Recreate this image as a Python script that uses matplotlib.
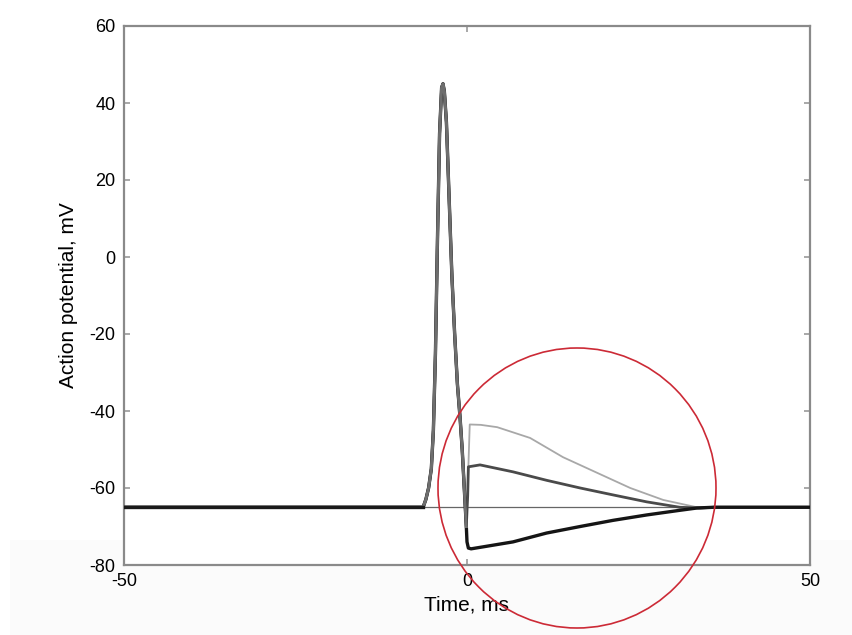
import matplotlib
matplotlib.use("Agg")
from matplotlib import pyplot as plt
from matplotlib.patches import Ellipse, Rectangle
import numpy as np

# shared part: rest + spike (ms, mV)
spike_t = [-50, -6.4, -6.0, -5.6, -5.2, -4.9, -4.6, -4.3, -4.0, -3.7, -3.5, -3.3,
           -3.0, -2.6, -2.2, -1.8, -1.4, -1.0, -0.7, -0.4, -0.1]
spike_v = [-65, -65, -63, -60, -55, -45, -25, 5, 32, 44, 45, 43,
           35, 15, -5, -20, -33, -42, -50, -60, -70]

# three after-potential branches
light_t = [0.1, 0.4, 2.0, 4.4, 9.2, 14.0, 18.9, 23.8, 28.6, 33.5, 36.0, 50]
light_v = [-60, -43.5, -43.6, -44.2, -47, -52, -56, -60, -63.1, -65, -65, -65]

mid_t = [0.1, 0.2, 1.9, 6.7, 11.6, 16.5, 21.3, 26.2, 31.0, 34.0, 36.0, 50]
mid_v = [-62, -54.5, -54, -55.8, -58, -60, -61.8, -63.6, -65, -65.2, -65, -65]

dark_t = [0.0, 0.2, 0.6, 6.7, 11.6, 16.5, 21.3, 26.2, 31.0, 33.5, 36.0, 50]
dark_v = [-74, -75.6, -75.8, -74, -71.7, -70, -68.4, -67, -65.8, -65.2, -65, -65]

rest_v = -65

plt.rcParams['font.family'] = ['Liberation Sans', 'DejaVu Sans']
plt.rcParams['axes.unicode_minus'] = False
fig = plt.figure(figsize=(8.53, 6.35), dpi=100)

# very faint grey band at the bottom of the scan
fig.patches.append(Rectangle((10 / 853, 0), 1, 95 / 635, transform=fig.transFigure,
                             facecolor="#fbfbfb", edgecolor="none", zorder=-5))

ax = fig.add_axes([124 / 853, 1 - 565 / 635, 686 / 853, 539 / 635])
ax.set_facecolor("white")

ax.axhline(rest_v, color="#666666", lw=0.9, zorder=1)
ax.plot(spike_t + light_t, spike_v + light_v, color="#a8a8a8", lw=1.3, zorder=2)
ax.plot(spike_t + mid_t, spike_v + mid_v, color="#4a4a4a", lw=2.0, zorder=3)
ax.plot(spike_t + dark_t, spike_v + dark_v, color="#151515", lw=2.4, zorder=4)
ax.plot(spike_t, spike_v, color="#6e6e6e", lw=2.2, zorder=5)
ax.plot([-50, -6.4], [rest_v, rest_v], color="#1a1a1a", lw=2.4, zorder=6)

ax.set_xlim(-50, 50)
ax.set_ylim(-80, 60)
ax.set_xticks([-50, 0, 50])
ax.set_yticks(np.arange(-80, 61, 20))
ax.tick_params(direction="in", length=4, width=1.2, color="#999999",
               labelsize=13, top=True, right=True, pad=6)
for s in ax.spines.values():
    s.set_color("#8a8a8a")
    s.set_linewidth(1.6)

ax.set_xlabel("Time, ms", fontsize=15, labelpad=4)
ax.set_ylabel("Action potential, mV", fontsize=15, labelpad=8)

# red highlight circle around the after-potentials
fig.patches.append(Ellipse((577 / 853, 1 - 488 / 635), 278 / 853, 280 / 635,
                           transform=fig.transFigure, fill=False,
                           edgecolor="#cc2a36", lw=1.2, zorder=10))

fig.savefig("out.png", dpi=100)
